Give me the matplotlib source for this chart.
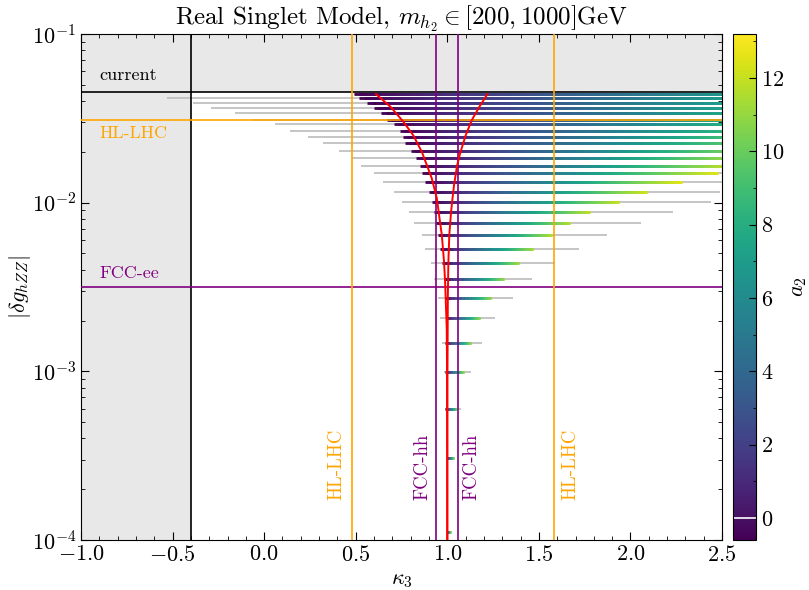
import numpy as np
import matplotlib
matplotlib.use("Agg")
import matplotlib.pyplot as plt
from matplotlib.collections import LineCollection
from matplotlib.colors import Normalize
from matplotlib.ticker import MultipleLocator

plt.rcParams['font.family'] = 'serif'
plt.rcParams['font.serif'] = ['cmr10']
plt.rcParams['mathtext.fontset'] = 'cm'
plt.rcParams['axes.formatter.use_mathtext'] = True

# scan rows: |delta g_hZZ| value of each row
row_y = [0.0443, 0.0416, 0.0391, 0.0363, 0.0339, 0.0309, 0.0292, 0.0266, 0.0244, 0.0225,
         0.0203, 0.0183, 0.0165, 0.0149, 0.0132, 0.0116, 0.0101, 0.00885, 0.00755, 0.00644,
         0.00534, 0.00441, 0.00351, 0.00273, 0.00206, 0.00147, 0.000988, 0.000599, 0.000308, 0.000112]
# excluded (grey) points: kappa3 range per row
grey_lo = [0.49, -0.53, -0.39, -0.29, -0.16, -0.06, 0.06, 0.14, 0.24, 0.32,
           0.41, 0.48, 0.53, 0.60, 0.65, 0.71, 0.75, 0.79, 0.82, 0.86,
           0.88, 0.91, 0.93, 0.95, 0.96, 0.97, 0.98, 0.99, 0.997, 0.997]
grey_hi = [2.5, 2.5, 2.5, 2.5, 2.5, 2.5, 2.5, 2.5, 2.5, 2.5,
           2.5, 2.5, 2.5, 2.5, 2.5, 2.49, 2.44, 2.23, 2.06, 1.87,
           1.72, 1.59, 1.46, 1.36, 1.26, 1.19, 1.13, 1.075, 1.037, 1.02]
# allowed (coloured) points: kappa3 range per row and a2 at the right end
col_lo = [0.49, 0.52, 0.56, 0.60, 0.64, 0.67, 0.71, 0.74, 0.76, 0.77,
          0.80, 0.83, 0.85, 0.86, 0.88, 0.90, 0.915, 0.93, 0.94, 0.95,
          0.96, 0.97, 0.98, 0.99, 0.993, 0.99, 0.99, 0.99, 0.997, 0.997]
col_hi = [2.5, 2.5, 2.5, 2.5, 2.5, 2.5, 2.5, 2.5, 2.5, 2.5,
          2.5, 2.5, 2.5, 2.48, 2.28, 2.09, 1.94, 1.78, 1.67, 1.57,
          1.47, 1.39, 1.31, 1.24, 1.18, 1.13, 1.09, 1.055, 1.037, 1.02]
a2_hi = [6.5, 6.8, 7.0, 7.2, 7.4, 7.6, 7.9, 8.3, 8.8, 9.3,
         10.0, 10.8, 11.6, 12.6, 12.6, 12.2, 12.0, 11.8, 11.6, 11.5,
         11.3, 11.2, 11.0, 11.0, 11.0, 11.0, 11.0, 11.0, 11.0, 11.5]
a2_min, a2_max = -0.6, 13.2

# theory curves
left_k3 = [0.611, 0.69, 0.760, 0.815, 0.861, 0.89, 0.915, 0.943, 0.958, 0.970, 0.982, 0.988, 0.997, 0.9985, 0.9995]
left_dg = [0.0440, 0.037, 0.0302, 0.025, 0.0200, 0.0165, 0.01396, 0.0106, 0.008, 0.00644, 0.0045, 0.0034, 0.0018, 0.001, 1e-4]
right_k3 = [1.219, 1.175, 1.134, 1.100, 1.070, 1.053, 1.037, 1.028, 1.020, 1.011, 1.006, 1.003, 1.001, 1.0005]
right_dg = [0.0440, 0.037, 0.0309, 0.025, 0.0196, 0.0165, 0.01274, 0.0105, 0.00865, 0.00644, 0.0045, 0.0028, 0.001, 1e-4]

fig = plt.figure(figsize=(8.09, 5.90), dpi=100)
ax = fig.add_axes([0.1001, 0.0847, 0.7924, 0.8577])
cax = fig.add_axes([0.906, 0.0847, 0.0285, 0.8577])

ax.set_yscale('log')
ax.set_xlim(-1.0, 2.5)
ax.set_ylim(1e-4, 1e-1)

# excluded regions
ax.axvspan(-1.0, -0.4, color='#e8e8e8', lw=0, zorder=0)
ax.axhspan(0.0452, 0.1, color='#e8e8e8', lw=0, zorder=0)

norm = Normalize(a2_min, a2_max)

# grey points
for y, lo, hi in zip(row_y, grey_lo, grey_hi):
    ax.plot([lo, hi], [y, y], color='#c0c0c0', lw=1.3, solid_capstyle='butt', zorder=1)

# coloured points (short overlapping pieces so the gradient has no seams)
n = 80
segs, vals = [], []
for y, lo, hi, a in zip(row_y, col_lo, col_hi, a2_hi):
    xs = np.linspace(lo, hi, n)
    av = np.linspace(a2_min, a, n - 1)
    for i in range(n - 1):
        segs.append([(xs[i], y), (xs[min(i + 2, n - 1)], y)])
        vals.append(av[i])
lc = LineCollection(segs, cmap='viridis', norm=norm, linewidths=2.0,
                    capstyle='butt', zorder=2)
lc.set_array(np.array(vals))
ax.add_collection(lc)

# constraint lines
ax.axvline(-0.4, color='k', lw=1.2, zorder=3)
ax.axhline(0.0452, color='k', lw=1.2, zorder=3)
ax.axhline(0.0309, color='orange', lw=1.2, zorder=3)
ax.axhline(0.00318, color='purple', lw=1.2, zorder=3)
for xv in [0.48, 1.58]:
    ax.axvline(xv, color='orange', lw=1.2, zorder=3)
for xv in [0.94, 1.06]:
    ax.axvline(xv, color='purple', lw=1.2, zorder=3)

ax.plot(left_k3, left_dg, color='red', lw=1.4, zorder=4)
ax.plot(right_k3, right_dg, color='red', lw=1.4, zorder=4)

ax.text(-0.90, 0.057, 'current', color='k', fontsize=13, va='center')
ax.text(-0.90, 0.0259, 'HL-LHC', color='orange', fontsize=13, va='center')
ax.text(-0.90, 0.00383, 'FCC-ee', color='purple', fontsize=13, va='center')
ax.text(0.48 - 0.035, 1.72e-4, 'HL-LHC', color='orange', fontsize=13.5, rotation=90, ha='right', va='bottom')
ax.text(0.94 - 0.025, 1.72e-4, 'FCC-hh', color='purple', fontsize=13.5, rotation=90, ha='right', va='bottom')
ax.text(1.06 + 0.025, 1.72e-4, 'FCC-hh', color='purple', fontsize=13.5, rotation=90, ha='left', va='bottom')
ax.text(1.58 + 0.045, 1.72e-4, 'HL-LHC', color='orange', fontsize=13.5, rotation=90, ha='left', va='bottom')

ax.xaxis.set_major_locator(MultipleLocator(0.5))
ax.xaxis.set_minor_locator(MultipleLocator(0.1))
ax.tick_params(which='both', direction='in', top=True, right=True, labelsize=16)
ax.tick_params(which='major', length=6)
ax.tick_params(which='minor', length=3)

ax.set_xlabel(r'$\kappa_3$', fontsize=16)
ax.set_ylabel(r'$|\delta g_{hZZ}|$', fontsize=16, labelpad=-1)
ax.set_title(r'Real Singlet Model, $m_{h_2} \in [200, 1000]$GeV', fontsize=18)

sm = plt.cm.ScalarMappable(norm=norm, cmap='viridis')
cbar = fig.colorbar(sm, cax=cax)
cbar.set_ticks([0, 2, 4, 6, 8, 10, 12])
cbar.ax.yaxis.set_minor_locator(MultipleLocator(1))
cbar.ax.tick_params(which='both', direction='in', labelsize=16)
cbar.ax.tick_params(which='major', length=5)
cbar.ax.tick_params(which='minor', length=2.5)
cbar.ax.axhline(0, color='white', lw=1.2)
cbar.set_label(r'$a_2$', fontsize=16)

fig.savefig('out.png', dpi=100)
